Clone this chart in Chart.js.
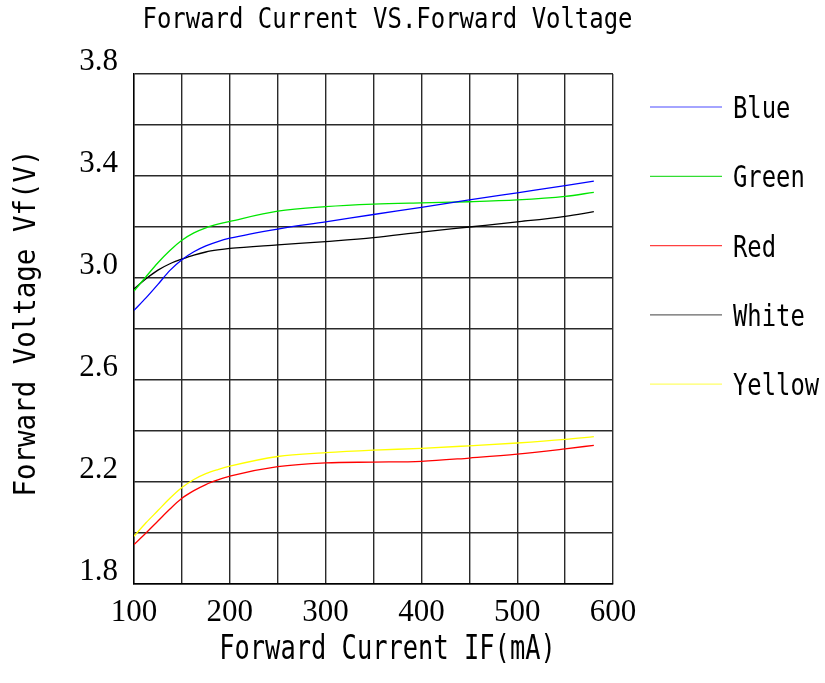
<!DOCTYPE html>
<html>
<head>
<meta charset="utf-8">
<script src="https://cdn.jsdelivr.net/npm/chart.js@4.4.1/dist/chart.umd.min.js"></script>
<style>
  body { margin: 0; background: #fff; }
  canvas { display: block; }
</style>
</head>
<body>
<canvas id="ivChart" width="825" height="683"></canvas>
<script>
const current = [100, 112.5, 125, 137.5, 150, 162.5, 175, 187.5, 200, 250, 300, 350, 400, 450, 500, 550, 580];
const blueVf = [2.873, 2.922, 2.975, 3.03, 3.072, 3.103, 3.126, 3.143, 3.156, 3.192, 3.22, 3.249, 3.277, 3.306, 3.334, 3.362, 3.38];
const greenVf = [2.949, 3.005, 3.06, 3.108, 3.148, 3.177, 3.197, 3.211, 3.222, 3.262, 3.28, 3.29, 3.295, 3.299, 3.306, 3.32, 3.336];
const redVf = [1.955, 2.0, 2.047, 2.094, 2.136, 2.166, 2.19, 2.208, 2.223, 2.26, 2.275, 2.278, 2.281, 2.294, 2.309, 2.33, 2.344];
const whiteVf = [2.957, 2.997, 3.031, 3.056, 3.074, 3.09, 3.102, 3.11, 3.116, 3.13, 3.143, 3.158, 3.18, 3.2, 3.22, 3.242, 3.26];
const yellowVf = [1.987, 2.04, 2.088, 2.136, 2.178, 2.21, 2.233, 2.249, 2.262, 2.3, 2.315, 2.325, 2.332, 2.342, 2.353, 2.367, 2.378];

const seriesNames = ['Blue', 'Green', 'Red', 'White', 'Yellow'];
const seriesColors = ['#0000ff', '#00e600', '#ff0000', '#000000', '#ffff00'];
const legendColors = ['#4a4aff', '#33dd33', '#ff4040', '#666666', '#ffff66'];

const titleText = 'Forward Current VS.Forward Voltage';
const xTitle = 'Forward Current IF(mA)';
const yTitle = 'Forward Voltage Vf(V)';

const mono = '"DejaVu Sans Mono", monospace';
const serif = '"Liberation Serif", "Times New Roman", serif';

function scaledText(ctx, text, x, y, size, sx, align, angle) {
    ctx.save();
    ctx.translate(x, y);
    if (angle) ctx.rotate(angle);
    ctx.scale(sx, 1);
    ctx.font = size + 'px ' + mono;
    ctx.fillStyle = '#000';
    ctx.textAlign = align;
    ctx.textBaseline = 'alphabetic';
    ctx.fillText(text, 0, 0);
    ctx.restore();
}

// title, axis titles and the side legend
const textPlugin = {
    id: 'textPlugin',
    afterDraw(chart) {
        const ctx = chart.ctx;
        const a = chart.chartArea;
        const cx = (a.left + a.right) / 2 + 14;
        scaledText(ctx, titleText, cx, a.top - 46, 28, 0.855, 'center');
        scaledText(ctx, xTitle, cx, a.bottom + 75, 33, 0.77, 'center');
        scaledText(ctx, yTitle, a.left - 99, (a.top + a.bottom) / 2 - 6, 30, 0.915, 'center', -Math.PI / 2);

        chart.data.datasets.forEach((ds, i) => {
            const base = a.top + 44 + i * 69.3;
            ctx.save();
            ctx.strokeStyle = legendColors[i];
            ctx.lineWidth = 1.2;
            ctx.beginPath();
            ctx.moveTo(a.right + 37, base - 11);
            ctx.lineTo(a.right + 109, base - 11);
            ctx.stroke();
            ctx.restore();
            scaledText(ctx, ds.label, a.right + 120, base, 31, 0.77, 'left');
        });
    }
};

const vfSets = [blueVf, greenVf, redVf, whiteVf, yellowVf];

new Chart(document.getElementById('ivChart'), {
    type: 'line',
    data: {
        datasets: vfSets.map((vals, i) => ({
            label: seriesNames[i],
            data: current.map((c, j) => ({ x: c, y: vals[j] })),
            borderColor: seriesColors[i],
            borderWidth: 1.3,
            pointRadius: 0,
            cubicInterpolationMode: 'monotone',
            fill: false
        }))
    },
    options: {
        responsive: false,
        animation: false,
        layout: { padding: { top: 74, right: 212, bottom: 0, left: 0 } },
        plugins: {
            legend: { display: false },
            title: { display: false },
            tooltip: { enabled: false }
        },
        scales: {
            x: {
                type: 'linear',
                min: 100,
                max: 600,
                afterFit: s => { s.height = 99; },
                grid: { color: '#2a2a2a', lineWidth: 1.4, drawTicks: false },
                border: { color: '#000', width: 1.4 },
                ticks: {
                    stepSize: 50,
                    autoSkip: false,
                    maxRotation: 0,
                    padding: 10,
                    color: '#000',
                    font: { family: serif, size: 31 },
                    callback: v => (v % 100 === 0 ? v : '')
                }
            },
            y: {
                min: 1.8,
                max: 3.8,
                afterFit: s => { s.width = 134; },
                grid: { color: '#2a2a2a', lineWidth: 1.4, drawTicks: false },
                border: { color: '#000', width: 1.4 },
                ticks: {
                    stepSize: 0.2,
                    autoSkip: false,
                    padding: 16,
                    labelOffset: -12,
                    color: '#000',
                    font: { family: serif, size: 31 },
                    callback: (v, i) => (i % 2 === 0 ? v.toFixed(1) : '')
                }
            }
        }
    },
    plugins: [textPlugin]
});
</script>
</body>
</html>
